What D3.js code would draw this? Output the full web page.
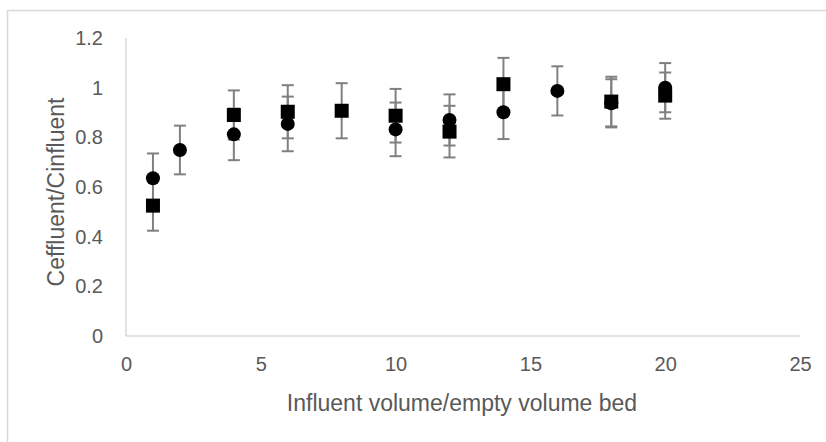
<!DOCTYPE html>
<html lang="en">
  <head>
    <meta charset="UTF-8" />
    <title>Ceffluent/Cinfluent vs influent volume</title>
    <script src="https://d3js.org/d3.v7.min.js"></script>
    <style>
      body {
        margin: 0;
        background: #fff;
      }
      text {
        font-family: "Liberation Sans", Arial, sans-serif;
        fill: #595959;
      }
      .axis path {
        stroke: #d9d9d9;
        stroke-width: 1.5px;
      }
      .axis text {
        font-size: 20px;
      }
      .axis-label {
        font-size: 23px;
      }
      .err {
        stroke: #808080;
        stroke-width: 2px;
      }
    </style>
  </head>

  <body>
    <svg id="scatter" height="442" width="826"></svg>
    <script>
      // series drawn as circles
      const circleX = [1, 2, 4, 6, 10, 12, 14, 16, 18, 20];
      const circleY = [0.635, 0.749, 0.812, 0.854, 0.832, 0.87, 0.901, 0.987, 0.937, 1.0];
      const circleErr = [0.1, 0.098, 0.104, 0.11, 0.108, 0.103, 0.108, 0.099, 0.097, 0.099];

      // series drawn as squares
      const squareX = [1, 4, 6, 8, 10, 12, 14, 18, 20];
      const squareY = [0.525, 0.89, 0.903, 0.907, 0.887, 0.823, 1.014, 0.944, 0.968];
      const squareErr = [0.101, 0.099, 0.107, 0.111, 0.108, 0.104, 0.106, 0.1, 0.093];

      const xTicks = [0, 5, 10, 15, 20, 25];
      const yTicks = [0, 0.2, 0.4, 0.6, 0.8, 1, 1.2];

      const svg = d3.select("#scatter"),
        width = +svg.attr("width"),
        height = +svg.attr("height");

      // chart frame
      svg
        .append("rect")
        .attr("x", 7.5)
        .attr("y", 10.5)
        .attr("width", width)
        .attr("height", height)
        .attr("fill", "#fff")
        .attr("stroke", "#d9d9d9")
        .attr("stroke-width", 1.5);

      const x = d3.scaleLinear().domain([0, 25]).range([126, 800]);
      const y = d3.scaleLinear().domain([0, 1.2]).range([336, 38]);

      const circles = circleX.map((d, i) => ({ x: d, y: circleY[i], e: circleErr[i] }));
      const squares = squareX.map((d, i) => ({ x: d, y: squareY[i], e: squareErr[i] }));

      svg
        .append("g")
        .attr("class", "axis")
        .attr("transform", `translate(0,${y(0)})`)
        .call(d3.axisBottom(x).tickValues(xTicks).tickSize(0).tickPadding(21))
        .call((g) => g.selectAll("path.domain").attr("d", `M${x(0)},0H${x(25)}`));

      svg
        .append("g")
        .attr("class", "axis")
        .attr("transform", `translate(${x(0)},0)`)
        .call(
          d3.axisLeft(y).tickValues(yTicks).tickSize(0).tickPadding(23).tickFormat(d3.format("~g"))
        )
        .call((g) => g.selectAll("path.domain").attr("d", `M0,${y(1.2)}V${y(0)}`));

      svg
        .append("text")
        .attr("class", "axis-label")
        .attr("x", 462)
        .attr("y", 411)
        .attr("text-anchor", "middle")
        .text("Influent volume/empty volume bed");

      svg
        .append("text")
        .attr("class", "axis-label")
        .attr("transform", `translate(64,${(y(0) + y(1.2)) / 2 + 5}) rotate(-90)`)
        .attr("text-anchor", "middle")
        .text("Ceffluent/Cinfluent");

      // error bars first, markers on top
      const cap = 6;
      const errG = svg.append("g");
      [circles, squares].forEach((series) => {
        const bars = errG.selectAll(null).data(series).enter().append("g");
        bars
          .append("line")
          .attr("class", "err")
          .attr("x1", (d) => x(d.x))
          .attr("x2", (d) => x(d.x))
          .attr("y1", (d) => y(d.y - d.e))
          .attr("y2", (d) => y(d.y + d.e));
        [1, -1].forEach((s) => {
          bars
            .append("line")
            .attr("class", "err")
            .attr("x1", (d) => x(d.x) - cap)
            .attr("x2", (d) => x(d.x) + cap)
            .attr("y1", (d) => y(d.y + s * d.e))
            .attr("y2", (d) => y(d.y + s * d.e));
        });
      });

      svg
        .append("g")
        .selectAll("circle")
        .data(circles)
        .enter()
        .append("circle")
        .attr("cx", (d) => x(d.x))
        .attr("cy", (d) => y(d.y))
        .attr("r", 7)
        .attr("fill", "#000");

      const size = 14;
      svg
        .append("g")
        .selectAll("rect")
        .data(squares)
        .enter()
        .append("rect")
        .attr("x", (d) => x(d.x) - size / 2)
        .attr("y", (d) => y(d.y) - size / 2)
        .attr("width", size)
        .attr("height", size)
        .attr("fill", "#000");
    </script>
  </body>
</html>
